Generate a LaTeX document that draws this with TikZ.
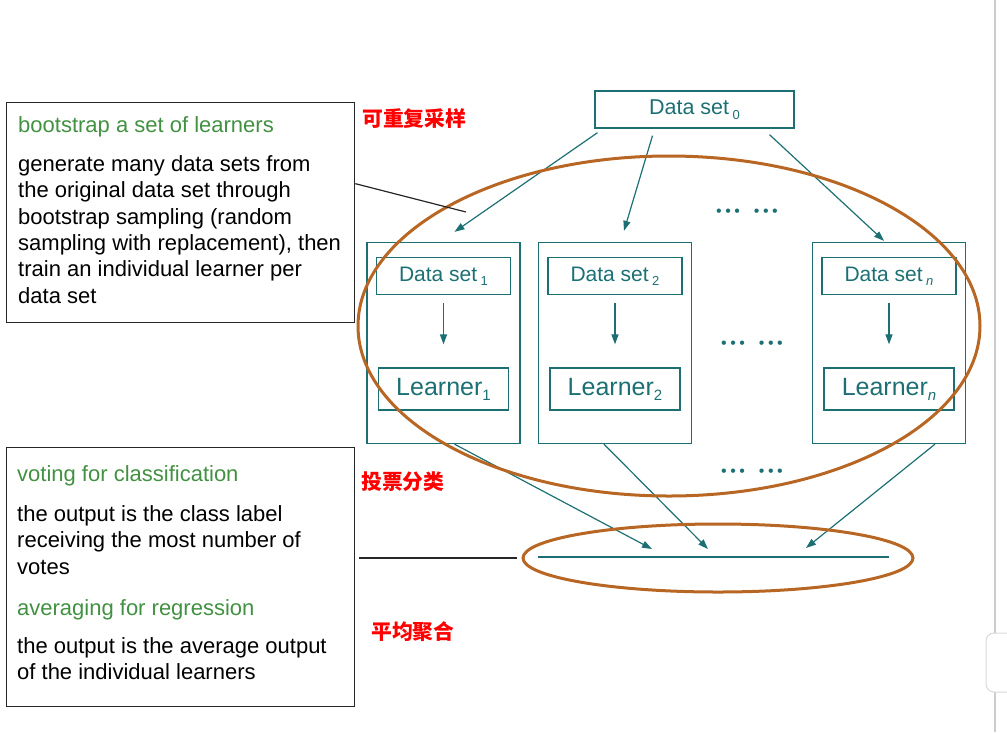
\documentclass[tikz,border=0pt]{standalone}
\usepackage{fontspec}
\setmainfont{Liberation Sans}
\newfontfamily\cjk{Noto Sans CJK SC}
\usetikzlibrary{arrows.meta,shapes.geometric}
\definecolor{dsteal}{RGB}{28,112,116}
\definecolor{ringbrown}{RGB}{184,102,36}
\definecolor{headgreen}{RGB}{66,145,66}
\newcommand{\lowsub}[1]{\,\raisebox{-0.25em}{\fontsize{13}{13}\selectfont #1}}
\newcommand{\lnsub}[1]{\raisebox{-0.2em}{\fontsize{15}{15}\selectfont #1}}
\newcommand{\dotrow}{\textbullet\kern3.5pt\textbullet\kern3.5pt\textbullet\hspace{14pt}\textbullet\kern3.5pt\textbullet\kern3.5pt\textbullet}
\tikzset{
  dsbox/.style={draw=dsteal,line width=1.3pt,inner sep=0pt,text=dsteal},
  flow/.style={draw=dsteal,line width=1.2pt,-{Triangle[length=10pt,width=7pt]}},
  ring/.style={draw=ringbrown,line width=3pt,ellipse,inner sep=0pt},
  notebox/.style={draw=black!85,line width=1.3pt,inner sep=0pt,anchor=north west},
  pointer/.style={draw=black!85,line width=1.2pt},
  headtext/.style={text=headgreen,font=\fontsize{22}{26}\selectfont,anchor=base west,inner sep=0pt},
  bodytext/.style={text=black,font=\fontsize{22}{26}\selectfont,anchor=base west,inner sep=0pt},
  redlabel/.style={text=red,font=\cjk\bfseries\fontsize{20.8}{21}\selectfont,anchor=west,inner sep=0pt},
  dots/.style={text=dsteal,font=\fontsize{16}{16}\selectfont,inner sep=0pt},
}
\begin{document}
\begin{tikzpicture}[x=1pt,y=-1pt]
\useasboundingbox (0,0) rectangle (1007,732);
% screen edge
\draw[gray!40,line width=2pt] (995,0) -- (995,732);
\draw[gray!30,fill=white,line width=1pt,rounded corners=8pt] (986,633) rectangle (1016,692);
% original data set
\node[dsbox,minimum width=199,minimum height=37,font=\fontsize{21.5}{21.5}\selectfont] (ds0) at (694.5,109.5) {\raisebox{-1pt}{Data set}\lowsub{0}};
% bootstrap columns
\foreach \i/\cx/\sub in {1/443.5/1,2/615/2,n/889/\textit{n}}{
	\node[dsbox,minimum width=153,minimum height=201] (col\i) at (\cx,343) {};
	\node[dsbox,minimum width=134,minimum height=37,font=\fontsize{21}{21}\selectfont] (ds\i) at (\cx,276) {\raisebox{-1.5pt}{Data set}\lowsub{\sub}};
	\node[dsbox,minimum width=130,minimum height=42,font=\fontsize{25}{25}\selectfont] (ln\i) at (\cx,389) {Learner\lnsub{\sub}};
	\draw[flow,shorten <=8pt,shorten >=23pt] (ds\i) -- (ln\i);}
\node[dots] (dotstop) at (747,213) {\dotrow};
\node[dots] (dotsmid) at (752,345) {\dotrow};
\node[dots] (dotsbot) at (752,473) {\dotrow};
% sampling
\draw[flow] ([xshift=-97pt,yshift=-4pt]ds0.south) -- ([xshift=11pt,yshift=10pt]col1.north);
\draw[flow] ([xshift=-42pt,yshift=-7pt]ds0.south) -- ([xshift=9pt,yshift=11pt]col2.north);
\draw[flow] ([xshift=75pt,yshift=-6pt]ds0.south) -- ([xshift=-5pt,yshift=1pt]coln.north);
% aggregation
\coordinate (vote1) at (652,549);
\coordinate (vote2) at (708,549);
\coordinate (voten) at (806,548);
\draw[flow] ([xshift=11pt]col1.south) -- (vote1);
\draw[flow] ([xshift=-11pt]col2.south) -- (vote2);
\draw[flow] ([xshift=46pt]coln.south) -- (voten);
\draw[dsbox] (538,557) -- (889,557);
\node[ring,minimum width=622,minimum height=340] (bag) at (669,326) {};
\node[ring,minimum width=390,minimum height=68] (agg) at (718,558) {};
% notes
\node[notebox,minimum width=348,minimum height=220] (boot) at (6,102) {};
\node[headtext] (boothead) at (18,132) {bootstrap a set of learners};
\foreach \t [count=\k] in {generate many data sets from,the original data set through,bootstrap sampling (random,{sampling with replacement), then},train an individual learner per,data set}{
	\node[bodytext] (boot-\k) at (18,{171.5+26.3*(\k-1)}) {\t};}
\node[notebox,minimum width=348,minimum height=259] (vote) at (6,447) {};
\node[headtext] (votehead) at (17,481.5) {voting for classification};
\foreach \t [count=\k] in {the output is the class label,receiving the most number of,votes}{
	\node[bodytext] (vote-\k) at (17,{521.5+26.3*(\k-1)}) {\t};}
\node[headtext] (avghead) at (17,615) {averaging for regression};
\foreach \t [count=\k] in {the output is the average output,of the individual learners}{
	\node[bodytext] (avg-\k) at (17,{653.5+26.3*(\k-1)}) {\t};}
\coordinate (bootend) at (466,212);
\draw[pointer] ([yshift=29pt]boot.east) -- (bootend);
\draw[pointer] ([xshift=4pt]agg.west -| vote.east) -- ([xshift=-5pt]agg.west);
% labels
\node[redlabel] (resample) at (362,119) {可重复采样};
\node[redlabel] (votelabel) at (361,482) {投票分类};
\node[redlabel] (avglabel) at (371,632) {平均聚合};
\end{tikzpicture}
\end{document}
